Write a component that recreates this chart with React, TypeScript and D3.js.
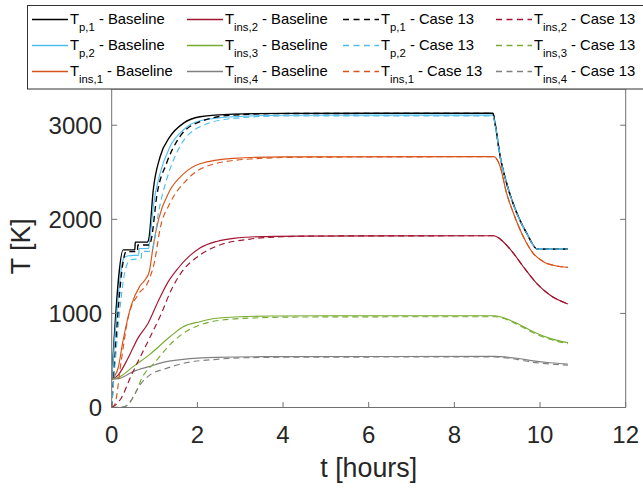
import React from "react";
import * as d3 from "d3";

// ---------- data (t [hours], T [K]) ----------
const tp1Base: [number, number][] = [
  [0, 300], [0.27, 1675], [0.54, 1675], [0.55, 1757], [0.83, 1757], [0.87, 1800], [0.97, 2311],
  [1.13, 2665], [1.36, 2878], [1.67, 3020], [2.06, 3090], [2.84, 3118], [4, 3126], [8.9, 3128],
  [8.95, 3020], [9.07, 2665], [9.22, 2383], [9.46, 2064], [9.69, 1851], [9.94, 1683], [10.65, 1683],
];
const tp2Base: [number, number][] = [
  [0, 300], [0.26, 1560], [0.3, 1600], [0.4, 1613], [0.63, 1620], [0.64, 1690], [0.86, 1690],
  [0.89, 1780], [0.97, 2134], [1.13, 2489], [1.36, 2771], [1.67, 2949], [2.06, 3048], [2.84, 3090],
  [4, 3106], [8.9, 3108], [8.95, 3010], [9.07, 2660], [9.22, 2380], [9.46, 2060], [9.69, 1850],
  [9.94, 1683], [10.65, 1683],
];
const tins1Base: [number, number][] = [
  [0, 300], [0.15, 420], [0.26, 700], [0.46, 1090], [0.65, 1285], [0.8, 1370], [0.88, 1450],
  [0.97, 1720], [1.1, 2010], [1.35, 2300], [1.67, 2480], [2.06, 2590], [2.84, 2648], [4, 2664],
  [8.92, 2666], [9.07, 2559], [9.22, 2276], [9.38, 2064], [9.61, 1815], [9.84, 1639], [10.08, 1550],
  [10.39, 1504], [10.65, 1490],
];
const tins2Base: [number, number][] = [
  [0, 300], [0.15, 345], [0.38, 523], [0.61, 735], [0.85, 895], [1.08, 1124], [1.31, 1330],
  [1.55, 1480], [1.78, 1595], [2.06, 1695], [2.45, 1765], [2.84, 1798], [3.23, 1812], [4.4, 1822],
  [8.92, 1825], [8.99, 1815], [9.14, 1762], [9.38, 1639], [9.61, 1496], [9.92, 1320], [10.23, 1196],
  [10.65, 1100],
];
const tins3Base: [number, number][] = [
  [0, 300], [0.19, 327], [0.5, 434], [0.89, 565], [1.36, 752], [1.67, 859], [2.06, 912],
  [2.45, 948], [3.7, 972], [5, 975], [8.95, 975], [9.07, 965], [9.46, 895], [9.84, 806],
  [10.23, 735], [10.65, 689],
];
const tins4Base: [number, number][] = [
  [0, 300], [0.19, 310], [0.5, 381], [0.89, 437], [1.28, 487], [1.67, 512], [2.45, 533],
  [3.5, 540], [8.95, 543], [9.07, 540], [9.46, 523], [9.84, 496], [10.23, 476], [10.65, 462],
];

const tp1Case: [number, number][] = [
  [0, 0], [0.34, 1656], [0.6, 1656], [0.61, 1727], [0.88, 1727], [0.93, 1800], [1.05, 2240],
  [1.28, 2595], [1.59, 2878], [2.06, 3037], [2.84, 3108], [4, 3124], [8.9, 3126],
  [8.95, 3020], [9.07, 2665], [9.22, 2383], [9.46, 2064], [9.69, 1851], [9.94, 1683], [10.65, 1683],
];
const tp2Case: [number, number][] = [
  [0, 0], [0.35, 1514], [0.45, 1570], [0.69, 1585], [0.7, 1660], [0.92, 1660], [0.97, 1709],
  [1.09, 2064], [1.28, 2418], [1.59, 2771], [2.06, 2984], [2.84, 3073], [4, 3098], [8.9, 3100],
  [8.95, 3010], [9.07, 2660], [9.22, 2380], [9.46, 2060], [9.69, 1850], [9.94, 1683], [10.65, 1683],
];
const tins1Case: [number, number][] = [
  [0, 0], [0.07, 30], [0.22, 487], [0.38, 948], [0.61, 1196], [0.85, 1337], [1.0, 1549],
  [1.13, 1900], [1.36, 2170], [1.75, 2418], [2.3, 2577], [3.23, 2641], [4.5, 2660], [8.92, 2665],
  [9.07, 2559], [9.22, 2276], [9.38, 2064], [9.61, 1815], [9.84, 1639], [10.08, 1550],
  [10.39, 1504], [10.65, 1490],
];
const tins2Case: [number, number][] = [
  [0, 0], [0.1, 30], [0.22, 98], [0.46, 345], [0.69, 558], [0.92, 770], [1.16, 1000],
  [1.39, 1250], [1.62, 1430], [2.06, 1620], [2.45, 1715], [3.23, 1790], [4, 1815], [5, 1823],
  [8.92, 1825], [8.99, 1815], [9.14, 1762], [9.38, 1639], [9.61, 1496], [9.92, 1320],
  [10.23, 1196], [10.65, 1100],
];
const tins3Case: [number, number][] = [
  [0, 0], [0.25, 5], [0.38, 30], [0.5, 110], [0.61, 204], [0.69, 300], [0.8, 380], [0.97, 460],
  [1.28, 629], [1.67, 788], [2.06, 877], [2.45, 922], [3.23, 950], [4.5, 962], [8.95, 965],
  [9.07, 958], [9.46, 885], [9.84, 795], [10.23, 725], [10.65, 678],
];
const tins4Case: [number, number][] = [
  [0, 0], [0.25, 5], [0.38, 30], [0.5, 110], [0.61, 204], [0.7, 265], [0.89, 345], [1.28, 416],
  [1.67, 469], [2.45, 512], [3.23, 530], [4.5, 535], [8.95, 537], [9.07, 533], [9.46, 512],
  [9.84, 480], [10.23, 462], [10.65, 450],
];

const seriesNames = ["p,1", "p,2", "ins,1", "ins,2", "ins,3", "ins,4"];
const seriesColors = ["#000000", "#4DBEEE", "#D95319", "#A2142F", "#77AC30", "#808080"];
const caseLabels = ["Baseline", "Case 13"];
const baseSeries = [tp1Base, tp2Base, tins1Base, tins2Base, tins3Base, tins4Base];
const caseSeries = [tp1Case, tp2Case, tins1Case, tins2Case, tins3Case, tins4Case];

const xTicks = [0, 2, 4, 6, 8, 10, 12];
const yTicks = [0, 1000, 2000, 3000];
const xLabel = "t [hours]";
const yLabel = "T [K]";

// ---------- layout ----------
const W = 643;
const H = 488;
const plot = { left: 111.7, right: 625.7, top: 89, bottom: 407.5 };
const FONT = "'Liberation Sans', Arial, Helvetica, sans-serif";
const TEXT = "#262626";
const AXIS = "#707070";

export default function App() {
  const x = d3.scaleLinear().domain([0, 12]).range([plot.left, plot.right]);
  const y = d3.scaleLinear().domain([0, 3385]).range([plot.bottom, plot.top]);
  const line = d3
    .line<[number, number]>()
    .x((d) => x(d[0]))
    .y((d) => y(d[1]))
    .curve(d3.curveMonotoneX);

  const lines: React.ReactNode[] = [];
  [baseSeries, caseSeries].forEach((group, gi) => {
    group.forEach((s, i) => {
      lines.push(
        <path
          key={`l-${gi}-${i}`}
          d={line(s) || ""}
          fill="none"
          stroke={seriesColors[i]}
          strokeWidth={i === 0 ? 1.35 : 1.15}
          strokeDasharray={gi === 1 ? "6,4" : undefined}
        />
      );
    });
  });

  // legend: 4 columns x 3 rows, column-major: baseline (6) then case (6)
  const colX = [32, 187, 343, 496];
  const rowY = [24, 50, 76];
  const legendEntries: React.ReactNode[] = [];
  for (let k = 0; k < 12; k++) {
    const gi = Math.floor(k / 6);
    const si = k % 6;
    const col = Math.floor(k / 3);
    const row = k % 3;
    const lx = colX[col];
    const by = rowY[row];
    legendEntries.push(
      <g key={`lg-${k}`}>
        <line
          x1={lx}
          x2={lx + 36}
          y1={by - 4.5}
          y2={by - 4.5}
          stroke={seriesColors[si]}
          strokeWidth={1.3}
          strokeDasharray={gi === 1 ? "6,4.5" : undefined}
        />
        <text x={lx + 38} y={by} fontSize={14.8} fill="#000" fontFamily={FONT}>
          T
          <tspan fontSize={11.3} dy={6.5}>
            {seriesNames[si]}
          </tspan>
          <tspan dy={-6.5}>{` - ${caseLabels[gi]}`}</tspan>
        </text>
      </g>
    );
  }

  return (
    <div style={{ position: "fixed", left: 0, top: 0 }}>
      <svg width={W} height={H} style={{ display: "block", background: "#fff" }}>
        <defs>
          <clipPath id="plotclip">
            <rect
              x={plot.left}
              y={plot.top}
              width={plot.right - plot.left}
              height={plot.bottom - plot.top}
            />
          </clipPath>
        </defs>
        <rect x={0} y={0} width={W} height={H} fill="#fff" />

        <g clipPath="url(#plotclip)">{lines}</g>

        {/* axes box */}
        <g stroke={AXIS} strokeWidth={1} fill="none">
          <line x1={plot.left} x2={plot.left} y1={plot.top} y2={plot.bottom} />
          <line x1={plot.right} x2={plot.right} y1={plot.top} y2={plot.bottom} />
          <line x1={plot.left} x2={plot.right} y1={plot.bottom} y2={plot.bottom} />
          <line x1={plot.left} x2={plot.right} y1={plot.top} y2={plot.top} />
          {xTicks.map((t) => (
            <line key={`xt${t}`} x1={x(t)} x2={x(t)} y1={plot.bottom} y2={plot.bottom - 5.5} />
          ))}
          {yTicks.map((t) => (
            <g key={`yt${t}`}>
              <line x1={plot.left} x2={plot.left + 5.5} y1={y(t)} y2={y(t)} />
              <line x1={plot.right} x2={plot.right - 5.5} y1={y(t)} y2={y(t)} />
            </g>
          ))}
        </g>

        {/* tick labels */}
        <g fontFamily={FONT} fontSize={24} fill={TEXT}>
          {xTicks.map((t) => (
            <text key={`xl${t}`} x={x(t)} y={443} textAnchor="middle">
              {t}
            </text>
          ))}
          {yTicks.map((t) => (
            <text key={`yl${t}`} x={102} y={y(t) + 8.6} textAnchor="end">
              {t}
            </text>
          ))}
        </g>

        {/* axis labels */}
        <text
          x={(plot.left + plot.right) / 2}
          y={476.5}
          textAnchor="middle"
          fontFamily={FONT}
          fontSize={26.8}
          fill={TEXT}
        >
          {xLabel}
        </text>
        <text
          transform={`translate(30,${(plot.top + plot.bottom) / 2 - 2}) rotate(-90)`}
          textAnchor="middle"
          fontFamily={FONT}
          fontSize={26.8}
          fill={TEXT}
        >
          {yLabel}
        </text>

        {/* legend */}
        <rect x={27.5} y={5.5} width={640} height={83.5} fill="#fff" stroke="#333" strokeWidth={1} />
        {legendEntries}
      </svg>
    </div>
  );
}
